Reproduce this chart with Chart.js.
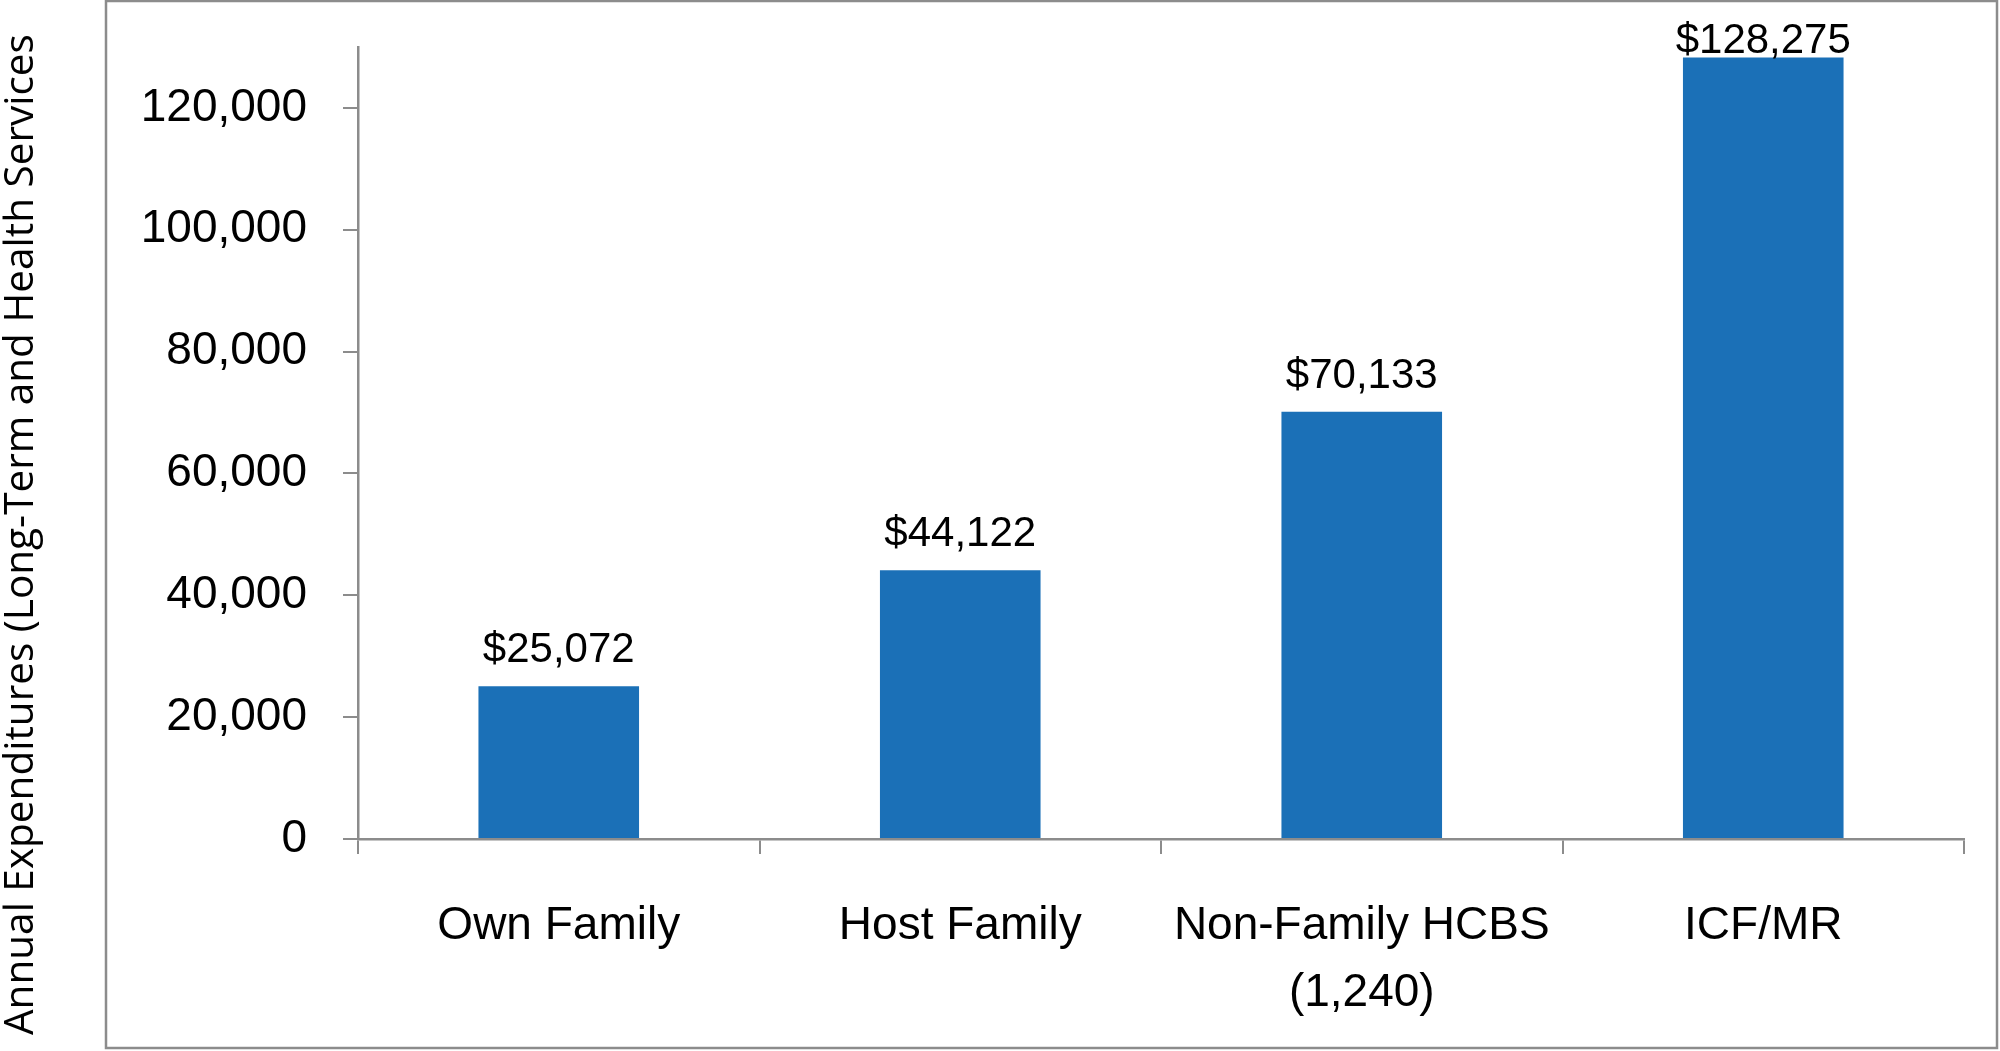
<html>
<head>
<style>
  html, body { margin: 0; padding: 0; background: #fff; }
  #wrap { width: 2000px; height: 1051px; position: relative; }
</style>
</head>
<body>
<div id="wrap"><canvas id="chart"></canvas></div>
<script src="https://cdn.jsdelivr.net/npm/chart.js@4/dist/chart.umd.min.js"></script>
<script>
var categories = ['Own Family', 'Host Family', ['Non-Family HCBS', '(1,240)'], 'ICF/MR'];
var expenditures = [25072, 44122, 70133, 128275];
var yTicks = [0, 20000, 40000, 60000, 80000, 100000, 120000];
var yTitle = 'Annual Expenditures (Long-Term and Health Services';

var barColor = '#1B70B7';
var axisColor = '#8C8C8C';
var labelFont = '"Liberation Sans", Arial, sans-serif';

function money(v) {
  return '$' + v.toLocaleString('en-US');
}

// frame around the chart plus the rotated y title, drawn outside chart.js's own title
var framePlugin = {
  id: 'frame',
  afterDraw: function (chart) {
    var ctx = chart.ctx;
    ctx.save();
    ctx.strokeStyle = axisColor;
    ctx.lineWidth = 2.5;
    ctx.strokeRect(106, 1, 1891, 1047);

    ctx.translate(33, 1035);
    ctx.rotate(-Math.PI / 2);
    ctx.fillStyle = '#000';
    ctx.font = '40.5px "Open Sans", sans-serif';
    ctx.textAlign = 'left';
    ctx.textBaseline = 'alphabetic';
    ctx.fillText(yTitle, 0, 0);
    ctx.restore();
  }
};

var valueLabels = {
  id: 'valueLabels',
  afterDatasetsDraw: function (chart) {
    var ctx = chart.ctx;
    var meta = chart.getDatasetMeta(0);
    ctx.save();
    ctx.fillStyle = '#000';
    ctx.font = '42px ' + labelFont;
    ctx.textAlign = 'center';
    ctx.textBaseline = 'alphabetic';
    meta.data.forEach(function (bar, i) {
      var y = Math.max(bar.y - 24, 53);
      ctx.fillText(money(expenditures[i]), bar.x, y);
    });
    ctx.restore();
  }
};

new Chart(document.getElementById('chart'), {
  type: 'bar',
  data: {
    labels: categories,
    datasets: [{
      data: expenditures,
      backgroundColor: barColor,
      borderWidth: 0,
      barPercentage: 0.4,
      categoryPercentage: 1
    }]
  },
  options: {
    responsive: true,
    maintainAspectRatio: false,
    animation: false,
    layout: { padding: { top: 47, right: 36, left: 0, bottom: 0 } },
    plugins: {
      legend: { display: false },
      tooltip: { enabled: false }
    },
    scales: {
      x: {
        grid: { display: true, drawOnChartArea: false, drawTicks: true, tickLength: 15, color: axisColor, lineWidth: 2, offset: true },
        border: { display: true, color: axisColor, width: 2.5 },
        ticks: {
          color: '#000',
          padding: 39,
          maxRotation: 0,
          autoSkip: false,
          font: { family: labelFont, size: 46, lineHeight: 1.45 }
        },
        afterFit: function (scale) { scale.height = 212; }
      },
      y: {
        min: 0,
        max: 130000,
        grid: { display: true, drawOnChartArea: false, drawTicks: true, tickLength: 15, color: axisColor, lineWidth: 2 },
        border: { display: true, color: axisColor, width: 2.5 },
        afterBuildTicks: function (scale) {
          scale.ticks = yTicks.map(function (v) { return { value: v }; });
        },
        ticks: {
          color: '#000',
          padding: 36,
          font: { family: labelFont, size: 46 },
          callback: function (v) { return v.toLocaleString('en-US'); }
        },
        afterFit: function (scale) {
          scale.width = 358;
          scale.paddingTop = 0;
          scale.paddingBottom = 0;
        }
      }
    }
  },
  plugins: [framePlugin, valueLabels]
});
</script>
</body>
</html>
